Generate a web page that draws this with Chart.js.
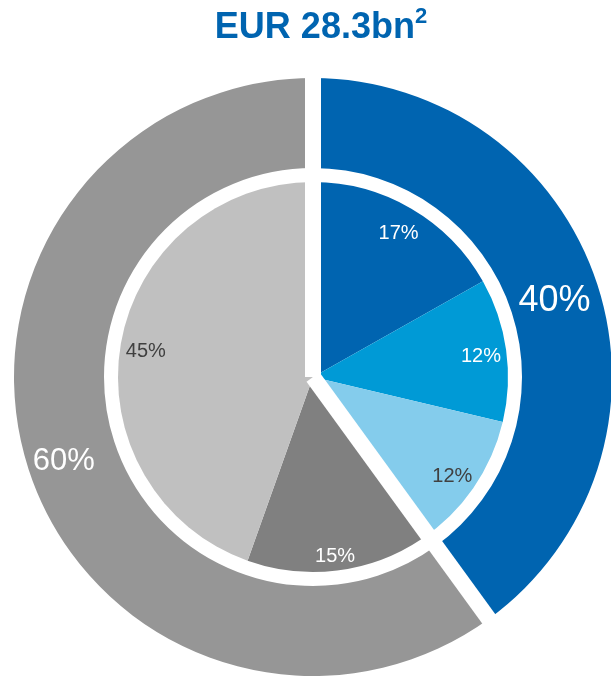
<!DOCTYPE html>
<html>
<head>
<meta charset="utf-8">
<script src="https://cdn.jsdelivr.net/npm/chart.js@4/dist/chart.umd.min.js"></script>
<style>
  html, body { margin: 0; padding: 0; background: #fff; width: 611px; height: 677px; overflow: hidden; }
  #title {
    position: absolute; top: 8px; left: 0; width: 642px; text-align: center;
    font: bold 36px "Liberation Sans", Arial, sans-serif; line-height: 36px; color: #0064B0;
  }
  #title span { font-size: 22px; vertical-align: 15px; line-height: 0; }
  #wrap { position: absolute; left: 0; top: 0; width: 626px; height: 677px; }
</style>
</head>
<body>
<div id="wrap"><canvas id="mix"></canvas></div>
<div id="title">EUR 28.3bn<span>2</span></div>
<script>
// outer ring: two groups, inner pie: breakdown
const outerLabels = ['Group A', 'Group B'];
const outerValues = [40, 60];
const innerLabels = ['A1', 'A2', 'A3', 'B1', 'B2'];
const innerValues = [17, 12, 12, 15, 45];

const outerColors = ['#0064B0', '#969696'];
const innerColors = ['#0064B0', '#009AD6', '#84CCEC', '#808080', '#C0C0C0'];
const outerText = ['#FFFFFF', '#FFFFFF'];
const innerText = ['#FFFFFF', '#FFFFFF', '#404040', '#FFFFFF', '#404040'];
const outerFont = [36, 31];
// where along the radius each label sits (0 = inner edge, 1 = outer edge)
const outerPos = [0.5, 0.59];
const innerPos = [0.87, 0.87, 0.87, 0.91, 0.87];

// white bands between the two groups, through both rings
const splitLines = {
  id: 'splitLines',
  afterDatasetsDraw(chart) {
    const ctx = chart.ctx;
    const arcs = chart.getDatasetMeta(0).data;
    ctx.save();
    ctx.strokeStyle = '#FFFFFF';
    ctx.lineWidth = 16;
    ctx.lineCap = 'butt';
    arcs.forEach(a => {
      const p = a.getProps(['x', 'y', 'startAngle', 'outerRadius']);
      const r = p.outerRadius + 3;
      ctx.beginPath();
      ctx.moveTo(p.x, p.y);
      ctx.lineTo(p.x + Math.cos(p.startAngle) * r, p.y + Math.sin(p.startAngle) * r);
      ctx.stroke();
    });
    ctx.restore();
  }
};

const sliceLabels = {
  id: 'sliceLabels',
  afterDraw(chart) {
    const ctx = chart.ctx;
    ctx.save();
    ctx.textAlign = 'center';
    ctx.textBaseline = 'middle';
    const put = (dsIndex, values, colors, sizes, pos) => {
      chart.getDatasetMeta(dsIndex).data.forEach((a, i) => {
        const p = a.getProps(['x', 'y', 'startAngle', 'endAngle', 'innerRadius', 'outerRadius']);
        const mid = (p.startAngle + p.endAngle) / 2;
        const r = p.innerRadius + (p.outerRadius - p.innerRadius) * pos[i];
        ctx.fillStyle = colors[i];
        ctx.font = sizes[i] + 'px "Liberation Sans", Arial, sans-serif';
        ctx.fillText(values[i] + '%', p.x + Math.cos(mid) * r, p.y + Math.sin(mid) * r + 3);
      });
    };
    put(0, outerValues, outerText, outerFont, outerPos);
    put(2, innerValues, innerText, innerValues.map(() => 20), innerPos);
    ctx.restore();
  }
};

new Chart(document.getElementById('mix'), {
  type: 'doughnut',
  data: {
    labels: innerLabels,
    datasets: [
      { label: 'Groups', data: outerValues, backgroundColor: outerColors, weight: 90 },
      { label: 'gap', data: [1], backgroundColor: 'rgba(0,0,0,0)', weight: 14 },
      { label: 'Breakdown', data: innerValues, backgroundColor: innerColors, weight: 195 }
    ]
  },
  options: {
    responsive: true,
    maintainAspectRatio: false,
    animation: false,
    events: [],
    cutout: 0,
    layout: { padding: { top: 78, left: 14, right: 14, bottom: 1 } },
    elements: { arc: { borderWidth: 0, hoverBorderWidth: 0, hoverOffset: 0 } },
    plugins: {
      legend: { display: false },
      tooltip: { enabled: false }
    }
  },
  plugins: [splitLines, sliceLabels]
});
</script>
</body>
</html>
